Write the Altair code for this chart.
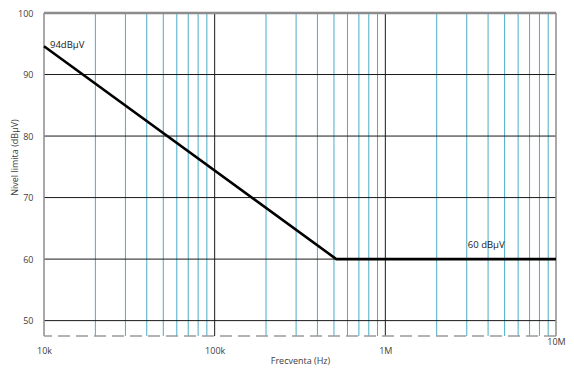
import altair as alt
import pandas as pd

# Limit curve
freq = [10000, 516000, 10000000]
level = [94.6, 60, 60]

# Annotations
ann_text = ["94dBµV", "60 dBµV"]
ann_freq = [10000, 3900000]
ann_level = [94.6, 60]
ann_dx = [6, 0]
ann_dy = [-1, -14]

# Grid positions
minor_x = [20000, 30000, 40000, 50000, 60000, 70000, 80000, 90000,
           200000, 300000, 400000, 500000, 600000, 700000, 800000, 900000,
           2000000, 3000000, 4000000, 5000000, 6000000, 7000000, 8000000, 9000000]
major_x = [100000, 1000000]
major_y = [50, 60, 70, 80, 90]
border_x = [10000, 10000000]
top_y = [100]
bottom_y = [47.5]

x_ticks = [10000, 100000, 1000000, 10000000]
x_labels = ["10k", "100k", "1M", "10M"]
y_ticks = [50, 60, 70, 80, 90, 100]

W, H = 512, 323
FONT = "Open Sans"
TXT = "#404040"

xs = alt.Scale(type="log", domain=[10000, 10000000], nice=False)
ys = alt.Scale(domain=[47.5, 100], nice=False, zero=False)

label_map = "{" + ", ".join(f"'{v}': '{l}'" for v, l in zip(x_ticks, x_labels)) + "}"

x_axis = alt.Axis(values=x_ticks, labelExpr=label_map + "[datum.value]",
                  grid=False, domain=False, ticks=False, labelPadding=10,
                  labelFlush=False, titleY=24, titleBaseline="middle",
                  labelBaseline={"condition": {"test": "datum.value == 10000000", "value": "bottom"}, "value": "top"})
y_axis = alt.Axis(values=y_ticks, grid=False, domain=False, ticks=False,
                  labelPadding=11, titleX=-25, titleY=144)


def X(field):
    return alt.X(field, scale=xs, title="Frecventa (Hz)", axis=x_axis)


def Y(field):
    return alt.Y(field, scale=ys, title="Nivel limita (dBµV)", axis=y_axis)


minor = alt.Chart(pd.DataFrame({"f": minor_x})).mark_rule(
    color="#4BACC6", strokeWidth=1).encode(x=X("f:Q"))
majx = alt.Chart(pd.DataFrame({"f": major_x})).mark_rule(
    color="#1a1a1a", strokeWidth=1).encode(x=X("f:Q"))
majy = alt.Chart(pd.DataFrame({"v": major_y})).mark_rule(
    color="#1a1a1a", strokeWidth=1).encode(y=Y("v:Q"))
bord = alt.Chart(pd.DataFrame({"f": border_x})).mark_rule(
    color="#8c8c8c", strokeWidth=1.5).encode(x=X("f:Q"))
top = alt.Chart(pd.DataFrame({"v": top_y})).mark_rule(
    color="#8c8c8c", strokeWidth=2.5).encode(y=Y("v:Q"))
bot = alt.Chart(pd.DataFrame({"v": bottom_y})).mark_rule(
    color="#9a9a9a", strokeWidth=1.5, strokeDash=[12, 6]).encode(y=Y("v:Q"))

line = alt.Chart(pd.DataFrame({"f": freq, "v": level})).mark_line(
    color="black", strokeWidth=2.6).encode(x=X("f:Q"), y=Y("v:Q"))

ann1 = alt.Chart(pd.DataFrame({"t": ann_text[:1], "f": ann_freq[:1], "v": ann_level[:1]})).mark_text(
    font=FONT, fontSize=9.5, color="#202020", align="left", dx=ann_dx[0], dy=ann_dy[0]).encode(
    x=X("f:Q"), y=Y("v:Q"), text="t:N")
ann2 = alt.Chart(pd.DataFrame({"t": ann_text[1:], "f": ann_freq[1:], "v": ann_level[1:]})).mark_text(
    font=FONT, fontSize=9.5, color="#202020", align="center", dx=ann_dx[1], dy=ann_dy[1]).encode(
    x=X("f:Q"), y=Y("v:Q"), text="t:N")

chart = alt.layer(minor, majx, majy, bord, bot, top, line, ann1, ann2).properties(
    width=W, height=H,
    autosize=alt.AutoSizeParams(type="none"),
    padding={"left": 36, "top": 5, "right": 10, "bottom": 30},
).configure_view(stroke=None).configure_axis(
    labelFont=FONT, labelFontSize=9, labelColor=TXT,
    titleFont=FONT, titleFontSize=9, titleColor=TXT, titleFontWeight="normal",
)

chart.save("out.html", embed_options={"renderer": "svg", "actions": False})
